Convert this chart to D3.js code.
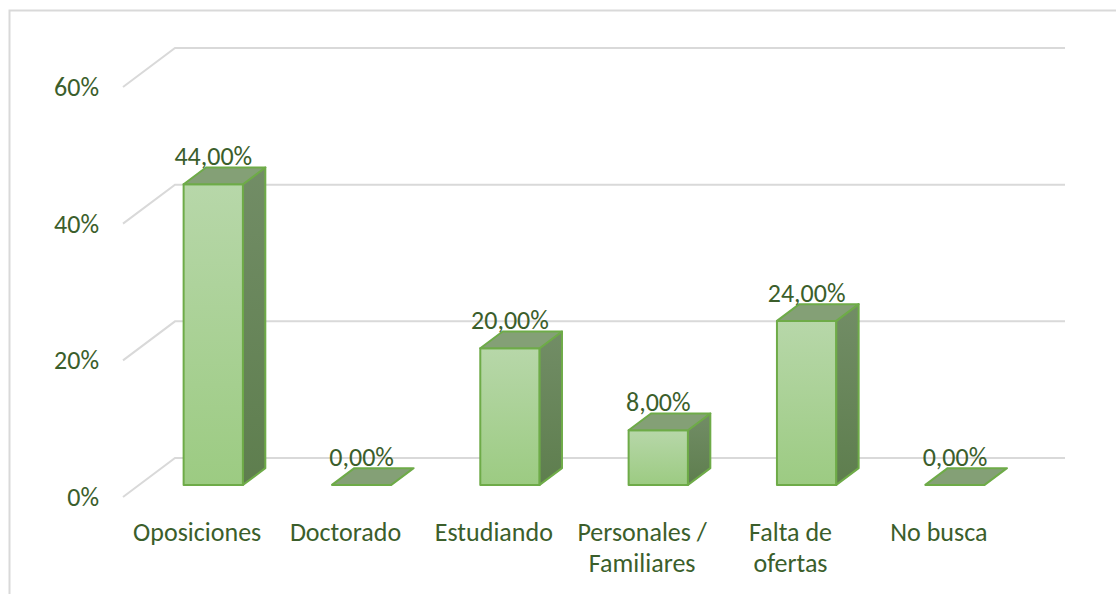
<!DOCTYPE html>
<html>
<head>
<meta charset="utf-8">
<script src="https://cdnjs.cloudflare.com/ajax/libs/d3/7.8.5/d3.min.js"></script>
<style>
  body { margin: 0; background: #fff; }
  text { font-family: Carlito, Lato, "Open Sans", sans-serif; fill: #3b5e2b; }
</style>
</head>
<body>
<div id="chart"></div>
<script>
// data
var categories = ["Oposiciones", "Doctorado", "Estudiando", "Personales / Familiares", "Falta de ofertas", "No busca"];
var catLines = [["Oposiciones"], ["Doctorado"], ["Estudiando"], ["Personales /", "Familiares"], ["Falta de", "ofertas"], ["No busca"]];
var values = [44, 0, 20, 8, 24, 0];
var yTicks = [0, 20, 40, 60];

var svgWidth = 1116;
var svgHeight = 594;
var fontSize = "26px";

// 3D depth of the floor (oblique projection)
var depthX = 52, depthY = -39;
// bar sits between these depth fractions
var zFront = 0.31, zBack = 0.74;

var svg = d3.select("#chart")
  .append("svg")
  .attr("width", svgWidth)
  .attr("height", svgHeight);

// chart frame (only top and left visible)
svg.append("path")
  .attr("d", "M9.5,594 L9.5,10.5 L1116,10.5")
  .attr("fill", "none")
  .attr("stroke", "#d9d9d9")
  .attr("stroke-width", 2);

var x = d3.scaleBand()
  .domain(categories)
  .range([123, 1013])
  .paddingInner(0.6)
  .paddingOuter(0.3);

var y = d3.scaleLinear().domain([0, 60]).range([497, 87]);

// gradients
var defs = svg.append("defs");
var gFront = defs.append("linearGradient").attr("id", "front").attr("x1", 0).attr("y1", 0).attr("x2", 0).attr("y2", 1);
gFront.append("stop").attr("offset", "0%").attr("stop-color", "#b7d7a9");
gFront.append("stop").attr("offset", "100%").attr("stop-color", "#9ccb82");
var gSide = defs.append("linearGradient").attr("id", "side").attr("x1", 0).attr("y1", 0).attr("x2", 0).attr("y2", 1);
gSide.append("stop").attr("offset", "0%").attr("stop-color", "#728d66");
gSide.append("stop").attr("offset", "100%").attr("stop-color", "#5e7e4e");

// gridlines: side wall + back wall
svg.append("g")
  .selectAll("path")
  .data(yTicks)
  .enter()
  .append("path")
  .attr("d", function(t) {
    var y0 = y(t);
    return "M123," + y0 + " L" + (123 + depthX) + "," + (y0 + depthY) + " L1065," + (y0 + depthY);
  })
  .attr("fill", "none")
  .attr("stroke", "#d9d9d9")
  .attr("stroke-width", 2);

// y tick labels
svg.append("g")
  .selectAll("text")
  .data(yTicks)
  .enter()
  .append("text")
  .attr("x", 99)
  .attr("y", function(t) { return y(t) + 9; })
  .attr("text-anchor", "end")
  .style("font-size", fontSize)
  .text(function(t) { return t + "%"; });

// bars
var fx = depthX * zFront, fy = depthY * zFront;
var bx = depthX * zBack, by = depthY * zBack;
var dx = bx - fx, dy = by - fy;

var bars = svg.append("g")
  .selectAll("g")
  .data(values)
  .enter()
  .append("g");

bars.each(function(v, i) {
  var g = d3.select(this);
  var x0 = x(categories[i]) + fx;
  var x1 = x0 + x.bandwidth();
  var yb = y(0) + fy;
  var yt = y(v) + fy;
  var stroke = "#6eab48";
  if (v > 0) {
    g.append("path")
      .attr("d", "M" + x0 + "," + yt + "L" + x1 + "," + yt + "L" + x1 + "," + yb + "L" + x0 + "," + yb + "Z")
      .attr("fill", "url(#front)")
      .attr("stroke", stroke).attr("stroke-width", 2).attr("stroke-linejoin", "round");
    g.append("path")
      .attr("d", "M" + x1 + "," + yt + "L" + (x1 + dx) + "," + (yt + dy) + "L" + (x1 + dx) + "," + (yb + dy) + "L" + x1 + "," + yb + "Z")
      .attr("fill", "url(#side)")
      .attr("stroke", stroke).attr("stroke-width", 2).attr("stroke-linejoin", "round");
  }
  g.append("path")
    .attr("d", "M" + x0 + "," + yt + "L" + x1 + "," + yt + "L" + (x1 + dx) + "," + (yt + dy) + "L" + (x0 + dx) + "," + (yt + dy) + "Z")
    .attr("fill", "#84a076")
    .attr("stroke", stroke).attr("stroke-width", 2).attr("stroke-linejoin", "round");
});

// data labels
var esLocale = d3.formatLocale({decimal: ",", thousands: ".", grouping: [3], currency: ["", "€"]});
var fmt = esLocale.format(".2f");

svg.append("g")
  .selectAll("text")
  .data(values)
  .enter()
  .append("text")
  .attr("x", function(v, i) { return x(categories[i]) + fx + x.bandwidth() / 2; })
  .attr("y", function(v) { return y(v) + by - 2; })
  .attr("text-anchor", "middle")
  .style("font-size", fontSize)
  .text(function(v) { return fmt(v) + "%"; });

// category labels
var cat = svg.append("g")
  .selectAll("text")
  .data(categories)
  .enter()
  .append("text")
  .attr("text-anchor", "middle")
  .style("font-size", fontSize);

cat.selectAll("tspan")
  .data(function(d, i) { return catLines[i].map(function(l) { return {line: l, x: x(d) + x.bandwidth() / 2}; }); })
  .enter()
  .append("tspan")
  .attr("x", function(d) { return d.x; })
  .attr("y", function(d, j) { return 541 + j * 31; })
  .text(function(d) { return d.line; });
</script>
</body>
</html>
